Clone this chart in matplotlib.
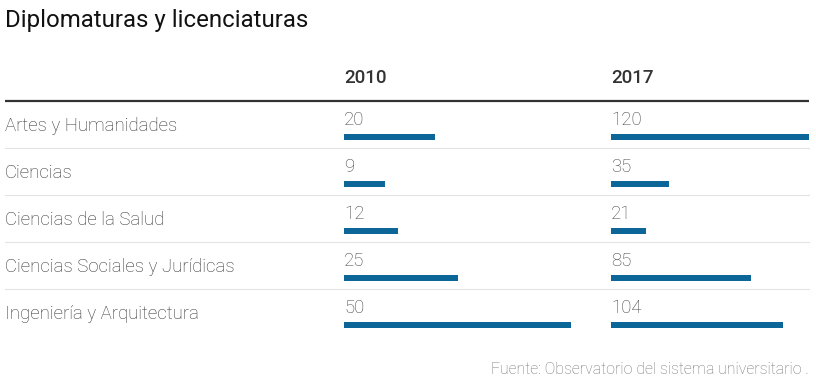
import matplotlib.pyplot as plt

categories = ["Artes y Humanidades", "Ciencias", "Ciencias de la Salud",
              "Ciencias Sociales y Jurídicas", "Ingeniería y Arquitectura"]
years = ["2010", "2017"]
values2010 = [20, 9, 12, 25, 50]
values2017 = [120, 35, 21, 85, 104]

W, H = 816, 387
barColor = '#0c6798'
fontName = 'Roboto'

fig = plt.figure(figsize=(W / 100, H / 100), dpi=100)

# background axes in pixel units for texts and rules
bg = fig.add_axes([0, 0, 1, 1])
bg.set_xlim(0, W)
bg.set_ylim(H, 0)
bg.axis('off')

top = 101
rowH = 47
left, right = 5, 809

bg.text(left, 20, "Diplomaturas y licenciaturas", fontsize=17.3, family=fontName,
        color='#111111', va='center', ha='left')
bg.text(344, 78, years[0], fontsize=13.5, family=fontName, weight='medium',
        color='#333333', va='center', ha='left')
bg.text(611, 78, years[1], fontsize=13.5, family=fontName, weight='medium',
        color='#333333', va='center', ha='left')
bg.plot([left, right], [top, top], color='#333333', lw=1.6, solid_capstyle='butt')

for i, cat in enumerate(categories):
    bg.text(left, top + rowH * i + 25, cat, fontsize=13.4, family=fontName,
            weight='light', color='#333333', va='center', ha='left')
    if i < len(categories) - 1:
        y = top + rowH * (i + 1)
        bg.plot([left, right], [y, y], color='#e3e3e3', lw=0.8)

bg.text(809, 370, "Fuente: Observatorio del sistema universitario .", fontsize=11.4,
        family=fontName, weight='light', color='#777777', va='center', ha='right')


def barAxes(x0, width, xmax, vals):
    ax = fig.add_axes([x0 / W, 1 - (top + rowH * len(vals)) / H,
                       width / W, rowH * len(vals) / H])
    ax.set_xlim(0, xmax)
    ax.set_ylim(len(vals), 0)
    ax.axis('off')
    pos = [i + 0.77 for i in range(len(vals))]
    ax.barh(pos, vals, height=0.13, color=barColor)
    for i, v in enumerate(vals):
        ax.text(0, i + 0.40, str(v), fontsize=13.4, family=fontName,
                weight='light', color='#444444', va='center', ha='left')
    return ax


barAxes(344, 227, 50, values2010)
barAxes(611, 198, 120, values2017)

fig.savefig('out.png', dpi=100)
